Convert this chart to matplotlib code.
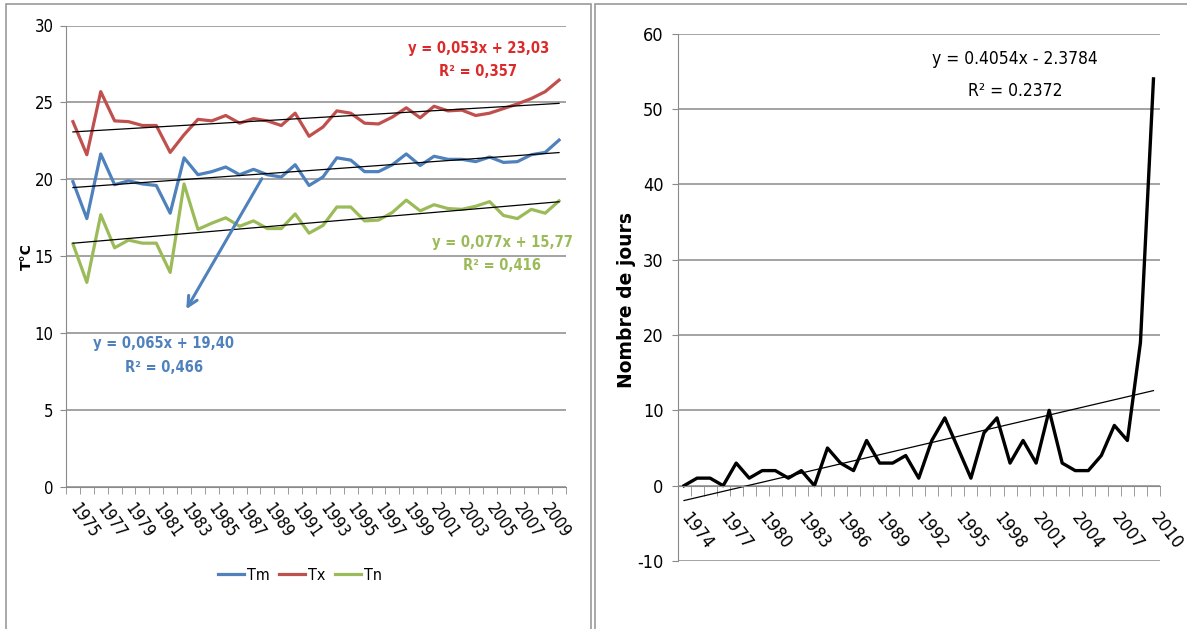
import numpy as np
import matplotlib
matplotlib.use("Agg")
import matplotlib.pyplot as plt
from matplotlib import font_manager
from matplotlib.patches import Rectangle

plt.rcParams['axes.unicode_minus'] = False

# narrow font if the system has one, else Liberation Sans
cond = [f for f in font_manager.fontManager.ttflist
        if f.name in ('Liberation Sans Narrow', 'DejaVu Sans') and f.stretch == 'condensed']
if any(f.name == 'Liberation Sans Narrow' for f in font_manager.fontManager.ttflist):
    FONT = dict(family='Liberation Sans Narrow')
    narrow = True
elif cond:
    FONT = dict(family='DejaVu Sans', stretch='condensed')
    narrow = True
else:
    FONT = dict(family='Liberation Sans')
    narrow = False

# ---------------- left chart: temperatures ----------------
years_t = list(range(1975, 2011))
tx = [23.75, 21.6, 25.7, 23.8, 23.75, 23.5, 23.5, 21.75, 22.9, 23.9,
      23.8, 24.15, 23.65, 23.95, 23.8, 23.5, 24.3, 22.8, 23.4, 24.45,
      24.3, 23.65, 23.6, 24.05, 24.65, 24.0, 24.75, 24.45, 24.5, 24.15,
      24.3, 24.6, 24.9, 25.25, 25.7, 26.45]
tm = [19.85, 17.45, 21.65, 19.65, 19.9, 19.7, 19.6, 17.8, 21.4, 20.3,
      20.5, 20.8, 20.3, 20.65, 20.3, 20.15, 20.95, 19.6, 20.15, 21.4,
      21.25, 20.5, 20.5, 20.95, 21.65, 20.9, 21.5, 21.3, 21.3, 21.15,
      21.45, 21.1, 21.15, 21.6, 21.75, 22.55]
tn = [15.8, 13.3, 17.7, 15.55, 16.05, 15.85, 15.85, 13.95, 19.7, 16.75,
      17.15, 17.5, 16.95, 17.3, 16.8, 16.8, 17.75, 16.5, 17.0, 18.2,
      18.2, 17.3, 17.35, 17.85, 18.65, 17.95, 18.35, 18.1, 18.05, 18.25,
      18.55, 17.65, 17.45, 18.05, 17.8, 18.6]
# trend coefficients as printed on the chart (x = 1..n)
trend_tx = (0.053, 23.03)
trend_tm = (0.065, 19.40)
trend_tn = (0.077, 15.77)

# ---------------- right chart: number of days ----------------
years_d = list(range(1974, 2011))
jours = [0, 1, 1, 0, 3, 1, 2, 2, 1, 2, 0, 5, 3, 2, 6, 3, 3, 4, 1, 6,
         9, 5, 1, 7, 9, 3, 6, 3, 10, 3, 2, 2, 4, 8, 6, 19, 54]
trend_j = (0.4054, -2.3784)

c_tm = '#4F81BD'
c_tx = '#C0504D'
c_tn = '#9BBB59'
grid_c = '#8a8a8a'

# font sizes (a bit bigger when a narrow face exists)
s_tick1 = 12 if narrow else 11
s_eq1 = 10.5 if narrow else 9
s_leg = 11.5 if narrow else 10.5
s_tick2 = 13 if narrow else 12.5
s_eq2 = 12.5 if narrow else 11

W, H = 1187, 629
fig = plt.figure(figsize=(W / 100, H / 100), dpi=100)


def fx(px):
    return px / W


def fy(py):
    return 1 - py / H


# panel frames
fig.patches.append(Rectangle((fx(6), fy(640)), fx(585), fy(4) - fy(640),
                             transform=fig.transFigure, fill=False,
                             edgecolor='#9a9a9a', lw=1.2))
fig.patches.append(Rectangle((fx(595), fy(640)), fx(600), fy(4) - fy(640),
                             transform=fig.transFigure, fill=False,
                             edgecolor='#9a9a9a', lw=1.2))

# ======== left ========
ax1 = fig.add_axes([fx(66), fy(487), fx(566) - fx(66), fy(25.5) - fy(487)])
x1 = np.arange(len(years_t))
n1 = x1 + 1
l_tm, = ax1.plot(x1, tm, color=c_tm, lw=2.3, label='Tm')
l_tx, = ax1.plot(x1, tx, color=c_tx, lw=2.3, label='Tx')
l_tn, = ax1.plot(x1, tn, color=c_tn, lw=2.3, label='Tn')
for a, b in (trend_tx, trend_tm, trend_tn):
    ax1.plot(x1, a * n1 + b, color='black', lw=0.9)

ax1.set_xlim(-0.5, len(years_t) - 0.5)
ax1.set_ylim(0, 30)
ax1.set_yticks(range(0, 31, 5))
ax1.yaxis.grid(True, color=grid_c, lw=1.1)
ax1.set_axisbelow(True)
for s in ('top', 'right'):
    ax1.spines[s].set_visible(False)
ax1.spines['left'].set_color(grid_c)
ax1.spines['bottom'].set_color(grid_c)
ax1.tick_params(axis='y', length=4, color=grid_c, pad=5, labelsize=s_tick1)
ax1.set_xticks(np.arange(-0.5, len(years_t), 1), minor=True)
ax1.tick_params(axis='x', which='minor', length=5, color=grid_c)
ax1.set_xticks(x1[::2])
ax1.set_xticklabels([str(y) for y in years_t[::2]], rotation=-55,
                    ha='left', va='center', rotation_mode='anchor')
ax1.tick_params(axis='x', which='major', length=0, pad=13, labelsize=s_tick1)
for t in ax1.get_xticklabels() + ax1.get_yticklabels():
    t.set(**FONT)

eq_kw = dict(fontsize=s_eq1, fontweight='bold', ha='center', va='center', **FONT)
ax1.text(29.2, 28.5, 'y = 0,053x + 23,03', color='#DC2A2A', **eq_kw)
ax1.text(29.2, 27.0, 'R² = 0,357', color='#DC2A2A', **eq_kw)
ax1.text(30.9, 15.9, 'y = 0,077x + 15,77', color=c_tn, **eq_kw)
ax1.text(30.9, 14.4, 'R² = 0,416', color=c_tn, **eq_kw)
ax1.text(6.55, 9.3, 'y = 0,065x + 19,40', color=c_tm, **eq_kw)
ax1.text(6.55, 7.75, 'R² = 0,466', color=c_tm, **eq_kw)
ax1.annotate('', xy=(8.06, 11.4), xytext=(13.7, 20.2),
             arrowprops=dict(arrowstyle='->,head_length=0.7,head_width=0.35',
                             color=c_tm, lw=2.2))

fig.text(fx(27), fy(257), 'T°C', rotation=90, fontsize=10, family='DejaVu Sans',
         fontweight='bold', ha='center', va='center')
leg = fig.legend(handles=[l_tm, l_tx, l_tn], loc='center',
                 bbox_to_anchor=(fx(300), fy(575)), ncol=3, frameon=False,
                 handlelength=1.6, columnspacing=0.6, handletextpad=0.2,
                 prop=dict(size=s_leg, **FONT))

# ======== right ========
ax2 = fig.add_axes([fx(677.5), fy(561), fx(1160) - fx(677.5), fy(33.7) - fy(561)])
x2 = np.arange(len(years_d))
n2 = x2 + 1
ax2.plot(x2, jours, color='black', lw=2.4)
ax2.plot(x2, trend_j[0] * n2 + trend_j[1], color='black', lw=0.9)
ax2.set_xlim(-0.5, len(years_d) - 0.5)
ax2.set_ylim(-10, 60)
ax2.set_yticks(range(-10, 61, 10))
ax2.yaxis.grid(True, color=grid_c, lw=1.1)
ax2.set_axisbelow(True)
for s in ('top', 'right'):
    ax2.spines[s].set_visible(False)
ax2.spines['bottom'].set_position(('data', 0))
ax2.spines['left'].set_color(grid_c)
ax2.spines['bottom'].set_color(grid_c)
ax2.tick_params(axis='y', length=4, color=grid_c, pad=6, labelsize=s_tick2)
ax2.set_xticks(np.arange(-0.5, len(years_d), 1), minor=True)
ax2.tick_params(axis='x', which='minor', length=7, color=grid_c)
ax2.set_xticks(x2[::3])
ax2.set_xticklabels([str(y) for y in years_d[::3]], rotation=-52,
                    ha='left', va='center', rotation_mode='anchor')
ax2.tick_params(axis='x', which='major', length=0, pad=21, labelsize=s_tick2)
for t in ax2.get_xticklabels() + ax2.get_yticklabels():
    t.set(**FONT)

ax2.text(25.4, 56.6, 'y = 0.4054x - 2.3784', fontsize=s_eq2,
         ha='center', va='center', **FONT)
ax2.text(25.4, 52.4, 'R² = 0.2372', fontsize=s_eq2,
         ha='center', va='center', **FONT)
fig.text(fx(626), fy(300), 'Nombre de jours', rotation=90, fontsize=13.5,
         family='DejaVu Sans', fontweight='bold', ha='center', va='center')

fig.savefig('out.png', dpi=100)
